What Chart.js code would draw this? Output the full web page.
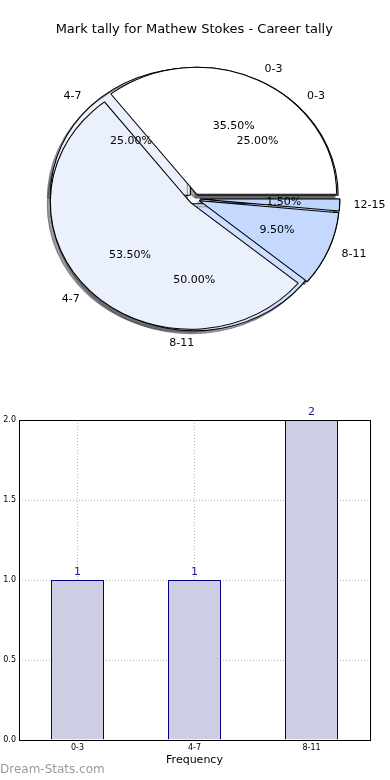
<!DOCTYPE html>
<html>
<head>
<meta charset="utf-8">
<script src="https://cdn.jsdelivr.net/npm/chart.js@4.4.0/dist/chart.umd.min.js"></script>
<style>
  html, body { margin: 0; padding: 0; background: #fff; }
  #wrap { position: relative; width: 390px; height: 780px; overflow: hidden; }
  canvas { position: absolute; left: 0; }
  #pieBack, #pieFront { top: 0; }
  #bars { top: 360px; }
  #mark { position: absolute; left: 0; top: 762px; font: 12px "DejaVu Sans", sans-serif; color: #9a9a9a; }
</style>
</head>
<body>
<div id="wrap">
  <canvas id="pieBack" width="390" height="360" style="width:390px;height:360px"></canvas>
  <canvas id="pieFront" width="390" height="360" style="width:390px;height:360px"></canvas>
  <canvas id="bars" width="390" height="420" style="width:390px;height:420px"></canvas>
  <div id="mark">Dream-Stats.com</div>
</div>
<script>
// career tally pie (front)
const careerLabels = ["0-3", "4-7", "8-11", "12-15"];
const careerPct = [35.5, 53.5, 9.5, 1.5];
const careerColors = ["#ffffff", "#eaf0fc", "#c5d9fe", "#bcd5ff"];

// recent tally pie (behind)
const tallyLabels = ["0-3", "4-7", "8-11"];
const tallyPct = [25, 25, 50];
const tallyColors = ["#ffffff", "#eaf0fc", "#cfdfff"];

// frequency bars
const barLabels = ["0-3", "4-7", "8-11"];
const barCounts = [1, 1, 2];
const yTicks = [0, 0.5, 1.0, 1.5, 2.0];

Chart.defaults.font.family = "'DejaVu Sans', sans-serif";
Chart.defaults.color = "#000";

const RADIUS = 127;
const STRETCH = 140 / 127; // matplotlib pie is drawn as an ellipse
const EXPLODE = 5;

function centerX(chart) {
  return (chart.chartArea.left + chart.chartArea.right) / 2;
}

function squash(chart) {
  const ctx = chart.ctx;
  const cx = centerX(chart);
  ctx.translate(cx, 0);
  ctx.scale(STRETCH, 1);
  ctx.translate(-cx, 0);
}

function setShadow(ctx) {
  ctx.shadowColor = "rgba(60,62,66,0.5)";
  ctx.shadowOffsetX = -3;
  ctx.shadowOffsetY = 3;
  ctx.shadowBlur = 0;
}

let frontChart = null;

const explodePlugin = {
  id: "explode",
  afterDatasetUpdate(chart, args) {
    args.meta.data.forEach((arc) => {
      const mid = (arc.startAngle + arc.endAngle) / 2;
      arc.x += Math.cos(mid) * EXPLODE;
      arc.y += Math.sin(mid) * EXPLODE;
    });
  },
};

// back canvas: shadows of both pies go under every wedge
const backPlugin = {
  id: "backLayer",
  beforeDatasetsDraw(chart) {
    const ctx = chart.ctx;
    ctx.save();
    squash(chart);
    setShadow(ctx);
    if (frontChart) {
      frontChart.getDatasetMeta(0).data.forEach((arc) => arc.draw(ctx));
    }
  },
  afterDatasetsDraw(chart) {
    chart.ctx.restore();
  },
};

const squashPlugin = {
  id: "squash",
  beforeDatasetsDraw(chart) {
    chart.ctx.save();
    squash(chart);
  },
  afterDatasetsDraw(chart) {
    chart.ctx.restore();
  },
};

function drawPieText(ctx, cx, meta, labels, pcts) {
  meta.data.forEach((arc, i) => {
    const n = labels.length - 1 - i; // datasets are reversed
    const mid = (arc.startAngle + arc.endAngle) / 2;
    const c = Math.cos(mid);
    const s = Math.sin(mid);
    const at = (k) => [cx + STRETCH * (arc.x + c * k * RADIUS - cx), arc.y + s * k * RADIUS];
    const [lx, ly] = at(1.1);
    ctx.textAlign = c > 1e-9 ? "left" : "right";
    ctx.fillText(labels[n], lx, ly);
    const [px, py] = at(0.6);
    ctx.textAlign = "center";
    ctx.fillText(pcts[n].toFixed(2) + "%", px, py);
  });
}

const pieOptions = (front) => ({
  responsive: false,
  animation: false,
  events: [],
  rotation: 90,
  radius: RADIUS,
  layout: { padding: { top: front ? 0 : 37.6, right: 1.5 } },
  plugins: {
    legend: { display: false },
    tooltip: { enabled: false },
    title: front
      ? {
          display: true,
          text: "Mark tally for Mathew Stokes - Career tally",
          font: { size: 13, weight: "normal" },
          color: "#000",
          padding: { top: 22, bottom: 0 },
        }
      : { display: false },
  },
});

const backChart = new Chart(document.querySelector("#pieBack"), {
  type: "pie",
  data: {
    labels: tallyLabels.slice().reverse(),
    datasets: [
      {
        data: tallyPct.slice().reverse(),
        backgroundColor: tallyColors.slice().reverse(),
        borderColor: "#000",
        borderWidth: 1,
      },
    ],
  },
  options: pieOptions(false),
  plugins: [explodePlugin, backPlugin],
});

const labelPlugin = {
  id: "pieText",
  afterDraw(chart) {
    const ctx = chart.ctx;
    const cx = centerX(chart);
    ctx.save();
    ctx.font = "11px 'DejaVu Sans', sans-serif";
    ctx.fillStyle = "#000";
    ctx.textBaseline = "middle";
    drawPieText(ctx, cx, chart.getDatasetMeta(0), careerLabels, careerPct);
    drawPieText(ctx, cx, backChart.getDatasetMeta(0), tallyLabels, tallyPct);
    ctx.restore();
  },
};

frontChart = new Chart(document.querySelector("#pieFront"), {
  type: "pie",
  data: {
    labels: careerLabels.slice().reverse(),
    datasets: [
      {
        data: careerPct.slice().reverse(),
        backgroundColor: careerColors.slice().reverse(),
        borderColor: "#000",
        borderWidth: 1,
      },
    ],
  },
  options: pieOptions(true),
  plugins: [explodePlugin, squashPlugin, labelPlugin],
});
backChart.draw();

const boxPlugin = {
  id: "box",
  afterDraw(chart) {
    const { left, top, right, bottom } = chart.chartArea;
    const ctx = chart.ctx;
    ctx.save();
    ctx.strokeStyle = "#000";
    ctx.lineWidth = 1;
    ctx.strokeRect(Math.round(left) + 0.5, Math.round(top) + 0.5, Math.round(right - left), Math.round(bottom - top));
    ctx.restore();
  },
};

const valuePlugin = {
  id: "values",
  afterDraw(chart) {
    const ctx = chart.ctx;
    ctx.save();
    ctx.font = "11px 'DejaVu Sans', sans-serif";
    ctx.fillStyle = "#1c1c8c";
    ctx.textAlign = "center";
    ctx.textBaseline = "bottom";
    chart.getDatasetMeta(0).data.forEach((bar, i) => {
      ctx.fillText(String(barCounts[i]), bar.x, bar.y - 2);
    });
    ctx.restore();
  },
};

new Chart(document.querySelector("#bars"), {
  type: "bar",
  data: {
    labels: barLabels,
    datasets: [
      {
        data: barCounts,
        backgroundColor: "#cdcde4",
        borderColor: "#000080",
        borderWidth: 1,
        barPercentage: 53 / 117,
        categoryPercentage: 1,
      },
    ],
  },
  options: {
    responsive: false,
    animation: false,
    events: [],
    layout: { padding: { top: 60, right: 20, left: 0, bottom: 0 } },
    plugins: { legend: { display: false }, tooltip: { enabled: false } },
    scales: {
      x: {
        z: 1,
        grid: { offset: false, color: "rgba(0,0,0,0.3)", drawTicks: false },
        border: { display: false, dash: [1, 2] },
        ticks: { font: { size: 8 }, color: "#000", padding: 3 },
        title: {
          display: true,
          text: "Frequency",
          font: { size: 11 },
          color: "#000",
          padding: { top: 0, bottom: 13 },
        },
        afterFit(scale) {
          scale.height = 40;
        },
      },
      y: {
        z: 1,
        min: 0,
        max: 2,
        afterBuildTicks(scale) {
          scale.ticks = yTicks.map((v) => ({ value: v }));
        },
        grid: { color: "rgba(0,0,0,0.3)", drawTicks: false },
        border: { display: false, dash: [1, 2] },
        ticks: {
          font: { size: 8 },
          color: "#000",
          padding: 3,
          callback: (v) => Number(v).toFixed(1),
        },
        afterFit(scale) {
          scale.width = 19;
        },
      },
    },
  },
  plugins: [boxPlugin, valuePlugin],
});
</script>
</body>
</html>
